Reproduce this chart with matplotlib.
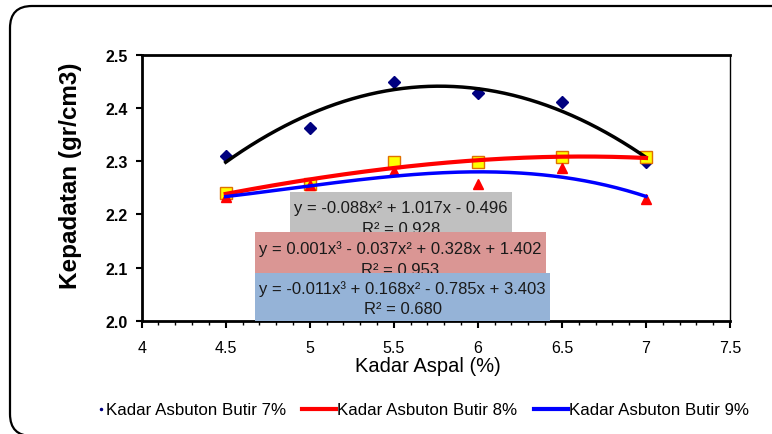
import matplotlib

matplotlib.use("Agg")
import matplotlib.pyplot as plt
import numpy as np
from matplotlib.legend_handler import HandlerLine2D
from matplotlib.patches import FancyBboxPatch, Rectangle

plt.rcParams["font.family"] = ["Liberation Sans", "DejaVu Sans"]

# data
kadar_aspal = [4.5, 5.0, 5.5, 6.0, 6.5, 7.0]
butir_7 = [2.310, 2.363, 2.448, 2.428, 2.411, 2.298]
butir_8 = [2.241, 2.257, 2.298, 2.298, 2.307, 2.307]
butir_9 = [2.232, 2.255, 2.282, 2.257, 2.288, 2.229]

labels = ["Kadar Asbuton Butir 7%", "Kadar Asbuton Butir 8%", "Kadar Asbuton Butir 9%"]
eq_lines = [
    ("y = -0.088x² + 1.017x - 0.496", "R² = 0.928"),
    ("y = 0.001x³ - 0.037x² + 0.328x + 1.402", "R² = 0.953"),
    ("y = -0.011x³ + 0.168x² - 0.785x + 3.403", "R² = 0.680"),
]
box_colors = ["#C0C0C0", "#DA9694", "#95B3D7"]


class DotRightHandler(HandlerLine2D):
    # single marker goes to the right end of the handle, next to the text
    def get_xdata(self, legend, xdescent, ydescent, width, height, fontsize):
        xdata = np.array([-xdescent + width - 4, -xdescent + width])
        return xdata, np.array([-xdescent + width - 2])


fig = plt.figure(figsize=(7.72, 4.35), dpi=100)
ax = fig.add_axes([0.1835, 0.2598, 0.7621, 0.6122])

# outer rounded frame, runs off the right and bottom edges
frame = FancyBboxPatch((0.10, -0.02), 8.0, 4.30, boxstyle="round,pad=0,rounding_size=0.22",
                       transform=fig.dpi_scale_trans, fill=False, edgecolor="black", linewidth=1.6)
fig.patches.append(frame)

x = np.array(kadar_aspal)
xs = np.linspace(4.5, 7.0, 200)

ax.plot(x, butir_7, "D", color="#000080", markersize=6, zorder=3)
ax.plot(x, butir_8, "s", color="#FFFF00", markeredgecolor="#E07000", markersize=8, zorder=3)
ax.plot(x, butir_9, "^", color="#FF0000", markersize=7, zorder=3)

fit7 = np.polyfit(x, butir_7, 2)
fit8 = np.polyfit(x, butir_8, 3)
fit9 = np.polyfit(x, butir_9, 3)
ax.plot(xs, np.polyval(fit7, xs), color="black", linewidth=2.5, zorder=4)
ax.plot(xs, np.polyval(fit8, xs), color="#FF0000", linewidth=3, zorder=4)
ax.plot(xs, np.polyval(fit9, xs), color="#0000FF", linewidth=2.5, zorder=4)

# trendline equation boxes, axes fraction: (x0, x1, y0, y1)
boxes = [
    (0.252, 0.629, 0.335, 0.485),
    (0.193, 0.687, 0.180, 0.335),
    (0.193, 0.694, 0.0, 0.180),
]
line_y = [(0.427, 0.346), (0.275, 0.194), (0.124, 0.048)]
for i, ((x0, x1, y0, y1), col, (l1, l2), (ya, yb)) in enumerate(zip(boxes, box_colors, eq_lines, line_y)):
    z = 5 + i
    ax.add_patch(Rectangle((x0, y0), x1 - x0, y1 - y0, transform=ax.transAxes, facecolor=col,
                           edgecolor="none", zorder=z))
    xc = (x0 + x1) / 2
    ax.text(xc, ya, l1, transform=ax.transAxes, ha="center", va="center", fontsize=12,
            color="#1a1a1a", zorder=z + 0.5)
    ax.text(xc, yb, l2, transform=ax.transAxes, ha="center", va="center", fontsize=12,
            color="#1a1a1a", zorder=z + 0.5)

ax.set_xlim(4, 7.5)
ax.set_ylim(2.0, 2.5)
ax.set_xticks(np.arange(4, 7.51, 0.5))
ax.set_xticklabels(["4", "4.5", "5", "5.5", "6", "6.5", "7", "7.5"])
ax.set_xticks(np.arange(4, 7.51, 0.1), minor=True)
ax.set_yticks(np.arange(2.0, 2.51, 0.1))
ax.set_yticklabels(["2.0", "2.1", "2.2", "2.3", "2.4", "2.5"], fontweight="bold")
ax.tick_params(axis="x", which="major", length=5, width=1.5, labelsize=11.5, pad=9)
ax.tick_params(axis="x", which="minor", length=3, width=1)
ax.tick_params(axis="y", which="major", length=4, width=1.5, labelsize=11.5, pad=6)

for side in ["left", "bottom", "top"]:
    ax.spines[side].set_linewidth(2)
ax.spines["right"].set_linewidth(1)

fig.text(428 / 772, 1 - 367 / 435, "Kadar Aspal (%)", fontsize=14.5, ha="center", va="center")
fig.text(70 / 772, 1 - 176 / 435, "Kepadatan (gr/cm3)", fontsize=17.5, fontweight="bold",
         rotation=90, ha="center", va="center")

handles = [
    plt.Line2D([], [], marker="o", color="#000080", linestyle="none", markersize=1.5),
    plt.Line2D([], [], color="#FF0000", linewidth=3),
    plt.Line2D([], [], color="#0000FF", linewidth=3),
]
fig.legend(handles, labels, loc="center left", bbox_to_anchor=(70 / 772, 1 - 411 / 435), ncol=3,
           frameon=False, fontsize=12.2, handlelength=2.0, handletextpad=0.1, columnspacing=0.95,
           borderpad=0, borderaxespad=0, handler_map={handles[0]: DotRightHandler()})

fig.savefig("out.png", dpi=100)
